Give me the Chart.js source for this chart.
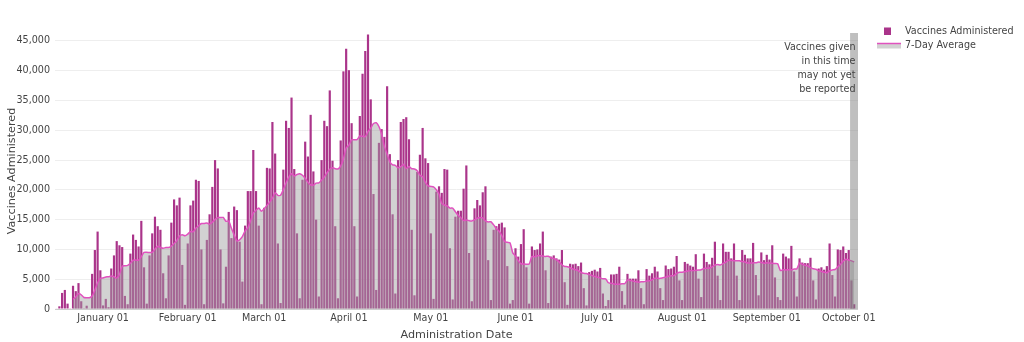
<!DOCTYPE html>
<html>
<head>
<meta charset="utf-8">
<script src="https://cdn.jsdelivr.net/npm/chart.js@4.4.1/dist/chart.umd.min.js"></script>
<style>
html,body{margin:0;padding:0;background:#fff;}
#wrap{width:1024px;height:342px;position:relative;}
</style>
</head>
<body>
<div id="wrap"><canvas id="c" width="1024" height="342"></canvas></div>
<script>
// ---------- DATA ----------
const startDate = "2020-12-15"; // first day of the daily series (one value per day)
const vaccines = [
  // Dec 15-31
  100,450,2700,3200,900,50,3900,3000,4350,1300,50,550,100,5900,9900,13000,6500,
  // Jan
  600,1700,300,6800,9000,11400,10700,10400,2200,800,9300,12500,11600,10500,14800,7000,900,9000,12700,15500,13900,13300,6000,1800,9000,14500,18400,17400,18700,7400,700,
  // Feb
  11000,17400,18200,21700,21500,10000,800,11600,15900,20500,25000,23600,10000,950,7100,16300,11900,17200,16600,11300,4600,14000,19800,19800,26700,19800,14000,800,
  // Mar
  17000,23700,23600,31400,26100,11000,1000,23400,31600,30400,35500,23500,12700,1800,21700,28100,25600,32600,23100,15000,2100,25000,31600,30700,36700,24900,13900,1800,28300,39900,43700,
  // Apr
  40100,31200,13900,2100,32400,39500,43300,46100,35200,19300,3200,27900,30200,28900,37400,26000,15900,2600,25000,31400,31900,32200,28500,13300,2300,23000,25900,30400,25300,24500,
  // May
  12700,1700,19700,20600,19500,23500,23400,10200,1600,15500,16500,16500,20200,24100,9400,1300,16900,18300,17400,19600,20600,8200,1500,13300,13900,14300,14500,13700,7200,900,1500,
  // Jun
  10200,8800,10900,13400,7000,900,10500,9900,10000,11000,13000,6500,1000,8800,9000,8500,8300,9900,4500,700,7600,7500,7600,7200,7800,3500,600,6200,6400,6600,
  // Jul
  6300,6900,2600,500,1500,5800,5800,5900,7100,3000,700,5900,5100,5100,5100,6500,3500,800,6700,5600,6000,7100,6300,3500,1500,7300,6700,6800,7100,8900,4800,
  // Aug
  1500,7900,7600,7300,7100,9200,5100,2000,9300,7900,7500,8600,11300,5600,1500,11000,9600,9600,8500,11000,5600,1500,9900,9100,8500,8500,11100,5700,2300,9500,8200,
  // Sep
  9100,8300,10700,5300,2000,1500,9300,8800,8500,10600,6300,2100,8500,7800,7700,7700,8600,4800,1600,6800,7000,6600,7200,11000,5700,2100,10000,9900,10500,9400,
  // Oct
  9900,4800,800
];
const avg7 = [
  // Dec 15-31
  null,null,null,null,null,null,1614,2029,2586,2386,1936,1886,1893,2179,3164,4400,5143,
  // Jan
  5221,5386,5414,5543,5414,5186,5786,7186,7257,7329,7686,8186,8214,8186,8814,9500,9514,9471,9500,10057,10543,10329,10186,10314,10314,10571,10986,11486,12257,12457,12300,
  // Feb
  12586,13000,12971,13586,13986,14357,14371,14457,14243,14571,15043,15343,15343,15364,14721,14779,13550,12436,11436,11621,12143,13129,13629,14757,16114,16571,16957,16414,
  // Mar
  16843,17400,17943,18614,19514,19086,19114,20029,21157,22129,22714,22343,22586,22700,22457,21957,21271,20857,20800,21129,21171,21643,22143,22871,23457,23714,23557,23514,23986,25171,27029,
  // Apr
  27514,28414,28414,28457,29043,28986,28929,29786,30357,31129,31286,30643,29314,27257,26014,24700,24214,24129,23714,23886,24314,23571,23929,23557,23514,23229,22443,22229,21243,20671,
  // May
  20586,20500,20029,19271,17714,17457,17300,16943,16929,16329,15743,15314,14843,14943,14829,14786,14986,15243,15371,15286,14786,14614,14643,14129,13500,13057,12329,11343,11200,11114,9429,
  // Jun
  8900,8114,7600,7557,7529,7529,8814,8771,8943,8957,8900,8829,8843,8600,8471,8257,7871,7429,7143,7100,6929,6714,6586,6429,6129,5986,5971,5771,5614,5471,
  // Jul
  5343,5214,5086,5071,4400,4314,4200,4143,4171,4229,4257,4886,4786,4686,4571,4486,4557,4571,4686,4757,4886,5171,5143,5143,5243,5329,5486,5600,5600,5971,6157,
  // Aug
  6157,6243,6371,6443,6443,6486,6529,6600,6800,6843,6871,7086,7386,7457,7386,7629,7871,8171,8157,8114,8114,8114,7957,7886,7729,7729,7743,7757,7871,7814,7686,
  // Sep
  7771,7743,7686,7629,7586,6443,6600,6557,6586,6571,6714,6729,7729,7514,7357,7243,6957,6743,6671,6429,6314,6157,6086,6429,6557,6629,7086,7500,8057,8371,
  // Oct
  8214,8086,7900
];
const tickDates = ["2021-01-01","2021-02-01","2021-03-01","2021-04-01","2021-05-01","2021-06-01","2021-07-01","2021-08-01","2021-09-01","2021-10-01"];
const tickLabels = ["January 01","February 01","March 01","April 01","May 01","June 01","July 01","August 01","September 01","October 01"];
const yTickValues = [0,5000,10000,15000,20000,25000,30000,35000,40000,45000];
const pendingStart = "2021-10-02";
const pendingNote = ["Vaccines given","in this time","may not yet","be reported"];
const seriesNames = ["Vaccines Administered","7-Day Average"];
const xTitle = "Administration Date";
const yTitle = "Vaccines Administered";

// ---------- helpers ----------
const EPOCH = Date.UTC(2021,0,1);
function dayIndex(s){ const p=s.split('-').map(Number); return Math.round((Date.UTC(p[0],p[1]-1,p[2])-EPOCH)/86400000); }
const startIdx = dayIndex(startDate);
const barPoints = vaccines.map((v,i)=>({x:startIdx+i,y:v}));
const avgPoints = avg7.map((v,i)=>({x:startIdx+i,y:v}));
const tickDays = tickDates.map(dayIndex);

const FONT = "'DejaVu Sans', Verdana, sans-serif";
const TXT = '#444444';
const BAR = '#aa348a';
const LINE = '#e052bf';
const FILL = 'rgba(160,160,160,0.47)';

Chart.defaults.font.family = FONT;
Chart.defaults.font.size = 9.6;
Chart.defaults.color = TXT;

const overlay = {
  id:'overlay',
  afterDatasetsDraw(chart){
    const {ctx, chartArea:a, scales:{x}} = chart;
    const x0 = x.getPixelForValue(dayIndex(pendingStart)-0.5);
    ctx.save();
    ctx.fillStyle = 'rgba(128,128,128,0.5)';
    ctx.fillRect(x0, a.top, a.right-x0, a.bottom-a.top);
    ctx.restore();
  },
  afterDraw(chart){
    const {ctx, chartArea:a} = chart;
    ctx.save();
    ctx.fillStyle = TXT;
    ctx.font = "9.6px " + FONT;
    ctx.textAlign = 'right';
    ctx.textBaseline = 'middle';
    pendingNote.forEach((t,i)=>ctx.fillText(t, a.right-2.5, 47.5 + i*14));
    ctx.font = "11.2px " + FONT;
    ctx.textAlign = 'center';
    ctx.fillText(xTitle, (a.left+a.right)/2, 335);
    ctx.save();
    ctx.translate(12, (a.top+a.bottom)/2);
    ctx.rotate(-Math.PI/2);
    ctx.fillText(yTitle, 0, 0);
    ctx.restore();
    ctx.fillStyle = BAR;
    ctx.fillRect(884, 27.5, 7, 7.5);
    ctx.fillStyle = FILL;
    ctx.fillRect(877, 43.5, 24, 5);
    ctx.strokeStyle = LINE;
    ctx.lineWidth = 1.5;
    ctx.beginPath(); ctx.moveTo(877, 43.5); ctx.lineTo(901, 43.5); ctx.stroke();
    ctx.fillStyle = TXT;
    ctx.font = "9.6px " + FONT;
    ctx.textAlign = 'left';
    ctx.fillText(seriesNames[0], 905, 31.5);
    ctx.fillText(seriesNames[1], 905, 45.5);
    ctx.restore();
  }
};

new Chart(document.getElementById('c'), {
  data:{
    datasets:[
      {type:'line', label:seriesNames[1], data:avgPoints, order:0,
       borderColor:LINE, borderWidth:1.5, pointRadius:0, tension:0.2,
       fill:'origin', backgroundColor:FILL, spanGaps:false},
      {type:'bar', label:seriesNames[0], data:barPoints, order:1,
       backgroundColor:BAR, borderWidth:0, barPercentage:0.8, categoryPercentage:1.0}
    ]
  },
  options:{
    responsive:false, animation:false, devicePixelRatio:1,
    layout:{padding:{top:33,right:166,bottom:0,left:0}},
    plugins:{legend:{display:false}, tooltip:{enabled:false}},
    scales:{
      x:{type:'linear', min:-17.6, max:276.4, offset:false,
         grid:{display:false, drawTicks:false, offset:false}, border:{display:false},
         afterBuildTicks:(s)=>{ s.ticks = tickDays.map(v=>({value:v})); },
         afterFit:(s)=>{ s.height = 33; },
         ticks:{autoSkip:false, maxRotation:0, padding:4, color:TXT, font:{size:9.6},
                callback:(v)=>{ const i=tickDays.indexOf(v); return i>=0?tickLabels[i]:''; }}},
      y:{min:0, max:46340,
         grid:{color:(c)=>c.tick && c.tick.value===0 ? '#cccccc' : '#eeeeee', drawTicks:false, lineWidth:1},
         border:{display:false},
         afterBuildTicks:(s)=>{ s.ticks = yTickValues.map(v=>({value:v})); },
         afterFit:(s)=>{ s.width = 55; },
         ticks:{padding:5, color:TXT, font:{size:9.6},
                callback:(v)=>v.toLocaleString('en-US')}}
    }
  },
  plugins:[overlay]
});
</script>
</body>
</html>
